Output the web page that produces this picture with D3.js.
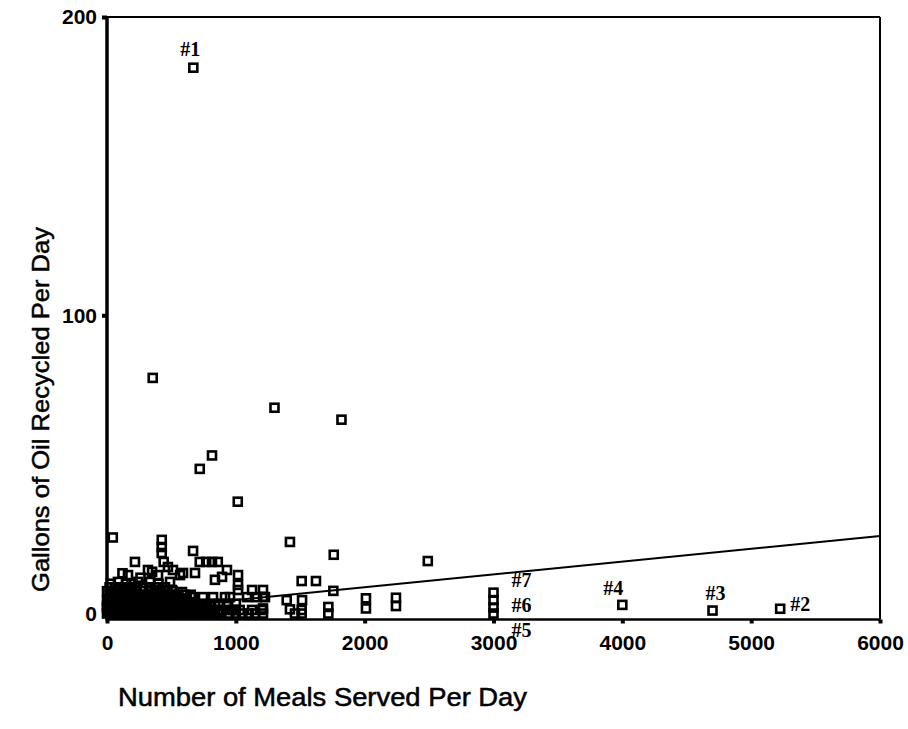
<!DOCTYPE html>
<html><head><meta charset="utf-8">
<script src="https://cdn.jsdelivr.net/npm/d3@7"></script>
<style>body{margin:0;background:#fff}svg{display:block}</style>
</head><body>
<script>
// ---------- data ----------
const xTicks = [0, 1000, 2000, 3000, 4000, 5000, 6000];
const yTicks = [0, 100, 200];

// clearly separated restaurants
const outlierMeals = [670, 355, 1300, 1820, 815, 720, 1015, 45, 1420, 425, 425, 425, 440, 473, 512, 567, 217, 668, 720, 770, 815, 860, 1760, 2490,
  590, 683, 838, 893, 931, 1017, 1017, 1017, 1126, 1211, 1211, 1211, 1211, 1511, 1622, 1757, 1395, 1514, 1420, 1511, 1459, 1511, 1718, 1718,
  2010, 2010, 2243, 2243, 3000, 3000, 3000, 3000, 4000, 4700, 5225];
const outlierOil = [183, 79, 69, 65, 53, 48.5, 37.5, 25.5, 24, 24.7, 22.3, 20.3, 17.3, 15.6, 14.6, 12.9, 17.3, 21, 17.3, 17.3, 17.3, 17.3, 19.7, 17.6,
  13.6, 13.6, 11.3, 12.3, 14.6, 12.9, 9.6, 7.9, 7.9, 7.9, 5.6, 1.7, 0, 10.9, 10.9, 7.6, 4.5, 4.5, 1.4, 1.2, 0, 0, 0, 2.2,
  5.1, 1.7, 5.3, 2.5, 7, 4.5, 2, 0, 2.9, 1.0, 1.6];

// dense group of small restaurants near the origin
const clusterMeals = [
  0, 35, 75, 110, 150, 195, 230, 270, 315, 350, 390, 430, 475, 510, 550, 600, 640, 690, 730, 780, 830, 880, 950, 1000, 1050, 1100, 1150,
  20, 60, 95, 135, 175, 210, 245, 285, 325, 365, 400, 445, 485, 525, 565, 610, 655, 700, 745, 790, 860,
  10, 55, 90, 125, 170, 215, 250, 295, 335, 370, 420, 455, 500, 540, 590, 625, 675, 725, 770, 825, 900, 980, 1030, 605, 699, 761, 823, 978, 1126, 1203,
  0, 40, 80, 115, 155, 190, 235, 275, 310, 355, 395, 435, 470, 515, 555, 595, 645, 690, 740,
  0, 25, 65, 100, 140, 180, 220, 260, 300, 340, 380, 410, 450, 490, 530, 575, 620, 660, 700, 760, 840, 930,
  30, 70, 105, 145, 185, 225, 265, 305, 345, 385, 425, 465, 505, 545, 590, 640, 690,
  15, 45, 80, 120, 160, 200, 240, 275, 320, 360, 400, 440, 480, 520, 560, 610, 650, 720, 800, 870, 940, 1000,
  0, 25, 60, 100, 140, 175, 215, 250, 290, 330, 370, 410, 455, 495, 545, 595,
  5, 40, 75, 115, 150, 190, 230, 270, 310, 350, 390, 430, 470, 520, 570, 620, 668, 745, 823, 916, 955, 1087, 1164, 1226,
  40, 80, 120, 160, 200, 245, 285, 325, 365, 410, 455, 530,
  20, 55, 95, 135, 175, 215, 255, 300, 340, 385, 425, 470, 510, 555, 600, 650,
  0, 35, 70, 110, 150, 190, 230, 280, 330, 380, 420, 470, 510, 62, 194, 411, 504, 582,
  20, 60, 100, 145, 180, 225, 280, 330, 370, 450, 101, 279,
  85, 241, 334, 489, 30, 150, 190, 400,
  163, 318, 396, 120, 260, 350];
const clusterOil = [
  0, 0, 0, 0, 0, 0, 0, 0, 0, 0, 0, 0, 0, 0, 0, 0, 0, 0, 0, 0, 0, 0, 0, 0, 0, 0, 0,
  0.6, 0.6, 0.6, 0.6, 0.6, 0.6, 0.6, 0.6, 0.6, 0.6, 0.6, 0.6, 0.6, 0.6, 0.6, 0.6, 0.6, 0.6, 0.6, 0.6, 0.6,
  1.2, 1.2, 1.2, 1.2, 1.2, 1.2, 1.2, 1.2, 1.2, 1.2, 1.2, 1.2, 1.2, 1.2, 1.2, 1.2, 1.2, 1.2, 1.2, 1.2, 1.2, 1.2, 1.2, 1.2, 1.2, 1.2, 1.2, 1.2, 1.2, 1.2,
  1.8, 1.8, 1.8, 1.8, 1.8, 1.8, 1.8, 1.8, 1.8, 1.8, 1.8, 1.8, 1.8, 1.8, 1.8, 1.8, 1.8, 1.8, 1.8,
  2.5, 2.5, 2.5, 2.5, 2.5, 2.5, 2.5, 2.5, 2.5, 2.5, 2.5, 2.5, 2.5, 2.5, 2.5, 2.5, 2.5, 2.5, 2.5, 2.5, 2.5, 2.5,
  3.1, 3.1, 3.1, 3.1, 3.1, 3.1, 3.1, 3.1, 3.1, 3.1, 3.1, 3.1, 3.1, 3.1, 3.1, 3.1, 3.1,
  3.8, 3.8, 3.8, 3.8, 3.8, 3.8, 3.8, 3.8, 3.8, 3.8, 3.8, 3.8, 3.8, 3.8, 3.8, 3.8, 3.8, 3.3, 3.3, 3.3, 3.3, 3.3,
  4.4, 4.4, 4.4, 4.4, 4.4, 4.4, 4.4, 4.4, 4.4, 4.4, 4.4, 4.4, 4.4, 4.4, 4.4, 4.4,
  5.0, 5.0, 5.0, 5.0, 5.0, 5.0, 5.0, 5.0, 5.0, 5.0, 5.0, 5.0, 5.0, 5.0, 5.0, 5.0, 5.5, 5.5, 5.5, 5.5, 5.5, 5.5, 5.5, 5.5,
  5.7, 5.7, 5.7, 5.7, 5.7, 5.7, 5.7, 5.7, 5.7, 5.7, 5.7, 5.7,
  6.3, 6.3, 6.3, 6.3, 6.3, 6.3, 6.3, 6.3, 6.3, 6.3, 6.3, 6.3, 6.3, 6.3, 6.3, 6.3,
  7.5, 7.5, 7.5, 7.5, 7.5, 7.5, 7.5, 7.5, 7.5, 7.5, 7.5, 7.5, 7.5, 7.2, 7.9, 7.9, 7.9, 7.2,
  8.8, 8.8, 8.8, 8.8, 8.8, 8.8, 8.8, 8.8, 8.8, 8.8, 8.6, 8.6,
  10.6, 10.6, 10.6, 10.6, 10.0, 10.0, 10.0, 10.0,
  12.9, 14.6, 12.9, 13.5, 12.0, 14.0];

// numbered restaurants
const labelNames = ["#1", "#2", "#3", "#4", "#5", "#6", "#7"];
const labelMeals = [670, 5225, 4700, 4000, 3000, 3000, 3000];
const labelOil = [183, 1.6, 1.0, 2.9, 0, 2, 7];

// least-squares trend line end points
const fitMeals = [0, 6000];
const fitOil = [0.2, 26.0];

// ---------- drawing ----------
const W = 908, H = 729;
const svg = d3.select("body").append("svg").attr("width", W).attr("height", H)
  .style("font-family", "'Liberation Sans', Arial, sans-serif");

const x = d3.scaleLinear().domain([0, 6000]).range([107, 880]);
const y = d3.scaleLinear().domain([-2, 200]).range([619.5, 17]);

const pLeft = x.range()[0], pRight = x.range()[1];
const pTop = y.range()[1], pBottom = y.range()[0];

// frame
svg.append("line").attr("x1", pLeft).attr("x2", pRight).attr("y1", pTop).attr("y2", pTop)
  .attr("stroke", "#000").attr("stroke-width", 2);
svg.append("line").attr("x1", pRight).attr("x2", pRight).attr("y1", pTop).attr("y2", pBottom)
  .attr("stroke", "#000").attr("stroke-width", 2);

// points
const points = [];
outlierMeals.forEach((m, i) => points.push([m, outlierOil[i]]));
clusterMeals.forEach((m, i) => points.push([m, clusterOil[i]]));
const s = 8;
svg.append("g").selectAll("rect").data(points).join("rect")
  .attr("x", d => x(d[0]) - s / 2).attr("y", d => y(d[1]) - s / 2)
  .attr("width", s).attr("height", s)
  .attr("fill", "none").attr("stroke", "#000").attr("stroke-width", 2.6);

// trend line
const line = d3.line().x(d => x(d[0])).y(d => y(d[1]));
svg.append("path").datum(fitMeals.map((m, i) => [m, fitOil[i]]))
  .attr("d", line).attr("stroke", "#000").attr("stroke-width", 2).attr("fill", "none");

// axes
const xAxis = svg.append("g").attr("transform", `translate(0,${pBottom})`)
  .call(d3.axisBottom(x).tickValues(xTicks).tickSize(4).tickPadding(12).tickFormat(d3.format("d")));
xAxis.select(".domain").remove();
xAxis.selectAll(".tick line").attr("stroke-width", 4);
xAxis.selectAll("text").attr("font-size", 21).attr("font-weight", "bold").attr("fill", "#000");
svg.append("line").attr("x1", pLeft).attr("x2", pRight).attr("y1", pBottom).attr("y2", pBottom)
  .attr("stroke", "#000").attr("stroke-width", 2.5);

const yAxis = svg.append("g").attr("transform", `translate(${pLeft},0)`)
  .call(d3.axisLeft(y).tickValues(yTicks).tickSize(5).tickPadding(5).tickFormat(d3.format("d")));
yAxis.select(".domain").remove();
yAxis.selectAll(".tick line").attr("stroke-width", 4);
yAxis.selectAll("text").attr("font-size", 21).attr("font-weight", "bold").attr("fill", "#000");
svg.append("line").attr("x1", pLeft).attr("x2", pLeft).attr("y1", pTop - 1).attr("y2", pBottom + 1)
  .attr("stroke", "#000").attr("stroke-width", 3.5);

// annotations
const labelOffsets = [[-3, -12, "middle"], [10, 2, "start"], [3, -11, "middle"], [-9, -10, "middle"],
  [18, 23.5, "start"], [18, 4.5, "start"], [18, -5.5, "start"]];
svg.append("g").selectAll("text").data(labelNames).join("text")
  .attr("x", (d, i) => x(labelMeals[i]) + labelOffsets[i][0])
  .attr("y", (d, i) => y(labelOil[i]) + labelOffsets[i][1])
  .attr("text-anchor", (d, i) => labelOffsets[i][2])
  .attr("font-family", "'Liberation Serif', 'Times New Roman', serif")
  .attr("font-weight", "bold").attr("font-size", 20)
  .text(d => d);

// axis titles
svg.append("text").attr("x", 118).attr("y", 706)
  .attr("font-size", 25).attr("textLength", 409).attr("lengthAdjust", "spacingAndGlyphs")
  .attr("stroke", "#000").attr("stroke-width", 0.5)
  .text("Number of Meals Served Per Day");
svg.append("text").attr("transform", "translate(49,592) rotate(-90)")
  .attr("font-size", 24).attr("textLength", 365).attr("lengthAdjust", "spacingAndGlyphs")
  .attr("stroke", "#000").attr("stroke-width", 0.5)
  .text("Gallons of Oil Recycled Per Day");
</script>
</body></html>
